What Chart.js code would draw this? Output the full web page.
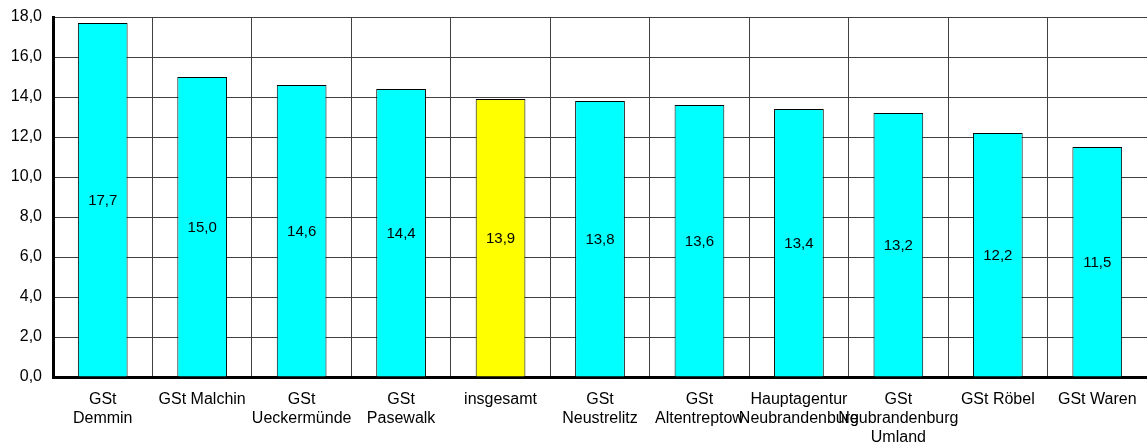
<!DOCTYPE html>
<html>
<head>
<meta charset="utf-8">
<script src="https://cdn.jsdelivr.net/npm/chart.js@4"></script>
<style>
  html, body { margin: 0; padding: 0; background: #fff; }
  #wrap { width: 1147px; height: 445px; }
</style>
</head>
<body>
<div id="wrap"><canvas id="chart" width="1147" height="445"></canvas></div>
<script>
// categories and values
const categories = [
  ["GSt", "Demmin"],
  "GSt Malchin",
  ["GSt", "Ueckermünde"],
  ["GSt", "Pasewalk"],
  "insgesamt",
  ["GSt", "Neustrelitz"],
  ["GSt", "Altentreptow"],
  ["Hauptagentur", "Neubrandenburg"],
  ["GSt", "Neubrandenburg", "Umland"],
  "GSt Röbel",
  "GSt Waren"
];
const values = [17.7, 15.0, 14.6, 14.4, 13.9, 13.8, 13.6, 13.4, 13.2, 12.2, 11.5];
const yTicks = [0, 2, 4, 6, 8, 10, 12, 14, 16, 18];

const fmt = (v) => v.toFixed(1).replace(".", ",");
const colors = categories.map((c) => (c === "insgesamt" ? "#FFFF00" : "#00FFFF"));

// draw the value text in the middle of each bar
const valueLabels = {
  id: "valueLabels",
  afterDatasetsDraw(chart) {
    const ctx = chart.ctx;
    const meta = chart.getDatasetMeta(0);
    ctx.save();
    ctx.font = "15px 'Liberation Sans', Arial, sans-serif";
    ctx.fillStyle = "#000";
    ctx.textAlign = "center";
    ctx.textBaseline = "middle";
    meta.data.forEach((bar, i) => {
      ctx.fillText(fmt(values[i]), bar.x, (bar.y + bar.base) / 2 + 1);
    });
    ctx.restore();
  }
};

new Chart(document.getElementById("chart"), {
  type: "bar",
  data: {
    labels: categories,
    datasets: [{
      data: values,
      backgroundColor: colors,
      borderColor: "#000",
      borderWidth: 1,
      borderSkipped: "bottom",
      categoryPercentage: 1,
      barPercentage: 0.5
    }]
  },
  options: {
    responsive: false,
    animation: false,
    layout: { padding: { top: 17, right: -3, left: 0, bottom: 0 } },
    plugins: {
      legend: { display: false },
      tooltip: { enabled: false }
    },
    scales: {
      x: {
        offset: true,
        grid: { offset: true, color: "#404040", lineWidth: 1, drawTicks: false },
        border: { color: "#000", width: 3 },
        ticks: {
          color: "#000",
          font: { family: "'Liberation Sans', Arial, sans-serif", size: 16, lineHeight: 1.2 },
          maxRotation: 0,
          autoSkip: false,
          padding: 13
        },
        afterFit(scale) {
          scale.height = 68;
          scale.paddingLeft = 0;
          scale.paddingRight = 0;
        }
      },
      y: {
        min: 0,
        max: 18,
        afterBuildTicks(scale) { scale.ticks = yTicks.map((v) => ({ value: v })); },
        grid: { color: "#404040", lineWidth: 1, drawTicks: false },
        border: { color: "#000", width: 3 },
        ticks: {
          color: "#000",
          font: { family: "'Liberation Sans', Arial, sans-serif", size: 16 },
          padding: 11,
          callback: (v) => fmt(v)
        },
        afterFit(scale) {
          scale.width = 53;
          scale.paddingTop = 0;
          scale.paddingBottom = 0;
        }
      }
    }
  },
  plugins: [valueLabels]
});
</script>
</body>
</html>
